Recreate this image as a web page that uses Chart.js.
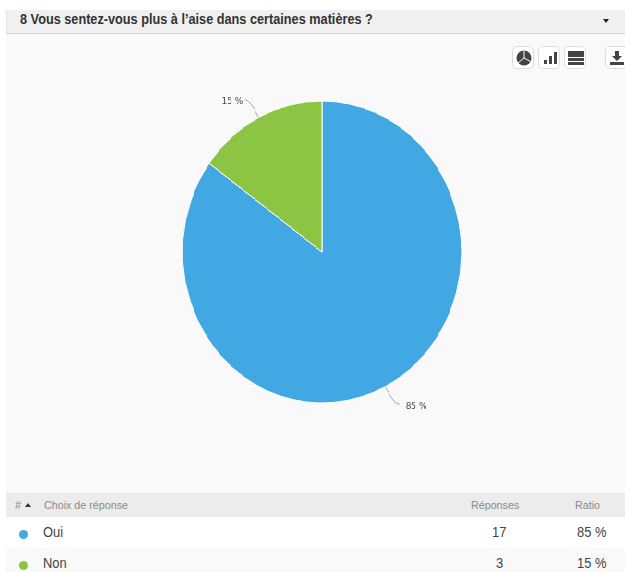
<!DOCTYPE html>
<html lang="fr">
<head>
<meta charset="utf-8">
<title>Vous sentez-vous plus à l'aise</title>
<script src="https://cdn.jsdelivr.net/npm/chart.js@4/dist/chart.umd.min.js"></script>
<style>
  html, body { margin: 0; padding: 0; background: #fff; }
  body { width: 625px; height: 572px; overflow: hidden; position: relative; font-family: "Liberation Sans", Arial, sans-serif; filter: blur(0.35px); }
  .box { position: absolute; box-sizing: border-box; }
  .txt { position: absolute; white-space: nowrap; transform: scaleX(0.924); transform-origin: left center; line-height: 16px; }
  #panel { left: 6px; top: 34px; width: 619px; height: 459px; background: #f9f9f9; }
  #head { left: 6px; top: 10px; width: 619px; height: 24px; background: #f0f0f0; border-bottom: 1px solid #d4d4d4; border-left: 1px solid #e6e6e6; }
  #title { left: 20px; top: 12px; font-size: 13.75px; font-weight: bold; color: #333; }
  .caret { position: absolute; width: 0; height: 0; border-left: 3px solid transparent; border-right: 3px solid transparent; }
  #menuCaret { left: 603px; top: 19px; border-top: 4px solid #222; }
  #chartWrap { position: absolute; left: 6px; top: 34px; width: 670px; height: 458px; transform: scaleX(0.924); transform-origin: left top; }
  #chartWrap canvas { display: block; }
  .btn { top: 46px; width: 22px; height: 23px; background: #fff; border: 1px solid #ddd; border-radius: 5px; }
  .btn svg { position: absolute; left: 2px; top: 2px; }
  #thead { left: 6px; top: 493px; width: 619px; height: 24px; background: #ececec; }
  .th { top: 497px; font-size: 11.6px; color: #8a8a8a; }
  .td { font-size: 14px; color: #444; }
  .row { left: 6px; width: 619px; }
  .dot { position: absolute; left: 19px; width: 9px; height: 9px; border-radius: 50%; }
</style>
</head>
<body>
<div class="box" id="panel"></div>
<div class="box" id="head"></div>
<div class="txt" id="title">8 Vous sentez-vous plus à l’aise dans certaines matières ?</div>
<div class="caret" id="menuCaret"></div>

<div id="chartWrap"><canvas id="pie" width="670" height="458"></canvas></div>

<div class="box btn" style="left:512px"><svg width="18" height="18" viewBox="0 0 18 18"><circle cx="9" cy="9" r="7.5" fill="#444"/><path d="M9 9L9 1.5M9 9L15.5 12.5M9 9L3 14" stroke="#fff" stroke-width="1"/></svg></div>
<div class="box btn" style="left:538px"><svg width="18" height="18" viewBox="0 0 18 18"><rect x="3" y="11" width="3" height="4" fill="#444"/><rect x="8" y="7" width="3" height="8" fill="#444"/><rect x="13" y="3" width="3" height="12" fill="#444"/></svg></div>
<div class="box btn" style="left:564px"><svg width="18" height="18" viewBox="0 0 18 18"><rect x="1" y="2" width="16" height="6" fill="#444"/><rect x="1" y="9" width="16" height="3" fill="#444"/><rect x="1" y="13" width="16" height="3" fill="#444"/></svg></div>
<div class="box btn" style="left:605px"><svg width="18" height="18" viewBox="0 0 18 18"><path d="M7 2h4v5h3l-5 5-5-5h3z" fill="#444"/><rect x="2" y="13" width="14" height="3" fill="#444"/></svg></div>

<div class="box" id="thead"></div>
<div class="txt th" style="left:15px">#</div>
<div class="caret" style="left:25px;top:503px;border-bottom:4px solid #333"></div>
<div class="txt th" style="left:44px">Choix de réponse</div>
<div class="txt th" style="left:471px">Réponses</div>
<div class="txt th" style="left:575px">Ratio</div>
<div id="rows"></div>

<script>
// donnees du graphique
const categories = ["Oui", "Non"];
const reponses = [17, 3];
const ratios = ["85 %", "15 %"];
const couleurs = ["#42a8e4", "#8bc543"];

// lignes du tableau sous le camembert
const rowTop = [517, 548];
const rowHeight = [31, 24];
const rowBg = ["#ffffff", "#f9f9f9"];
const rows = document.getElementById("rows");
categories.forEach((cat, i) => {
  const top = rowTop[i];
  const mid = top + 7;
  rows.innerHTML += `
    <div class="box row" style="top:${top}px;height:${rowHeight[i]}px;background:${rowBg[i]}"></div>
    <div class="dot" style="top:${top + 13}px;background:${couleurs[i]}"></div>
    <div class="txt td" style="left:43px;top:${mid}px">${cat}</div>
    <div class="txt td" style="left:${reponses[i] > 9 ? 492 : 496}px;top:${mid}px">${reponses[i]}</div>
    <div class="txt td" style="left:577px;top:${mid}px">${ratios[i]}</div>`;
});

// etiquettes avec trait de rappel
const leaderLabels = {
  id: "leaderLabels",
  afterDatasetsDraw(chart) {
    const ctx = chart.ctx;
    chart.getDatasetMeta(0).data.forEach((arc, i) => {
      const a = (arc.startAngle + arc.endAngle) / 2;
      const r = arc.outerRadius;
      const x0 = arc.x + Math.cos(a) * r, y0 = arc.y + Math.sin(a) * r;
      const x1 = arc.x + Math.cos(a) * (r + 20), y1 = arc.y + Math.sin(a) * (r + 20);
      const side = Math.cos(a) >= 0 ? 1 : -1;
      ctx.save();
      ctx.strokeStyle = "#a8a8a8";
      ctx.lineWidth = 1;
      ctx.beginPath();
      ctx.moveTo(x0, y0);
      ctx.quadraticCurveTo(x1, y1, x1 + side * 6, y1);
      ctx.stroke();
      ctx.fillStyle = "#4a4a4a";
      ctx.font = "9px 'DejaVu Sans'";
      ctx.textBaseline = "middle";
      ctx.textAlign = side > 0 ? "left" : "right";
      ctx.fillText(ratios[i], x1 + (side > 0 ? 13 : -8), y1 + 2);
      ctx.restore();
    });
  }
};

new Chart(document.getElementById("pie"), {
  type: "pie",
  data: {
    labels: categories,
    datasets: [{
      data: reponses,
      backgroundColor: couleurs,
      borderColor: "#ffffff",
      borderWidth: 1
    }]
  },
  options: {
    responsive: false,
    animation: false,
    layout: { padding: { left: 190.5, right: 176.5, top: 66.5, bottom: 88.5 } },
    plugins: { legend: { display: false }, tooltip: { enabled: false } }
  },
  plugins: [leaderLabels]
});
</script>
</body>
</html>
